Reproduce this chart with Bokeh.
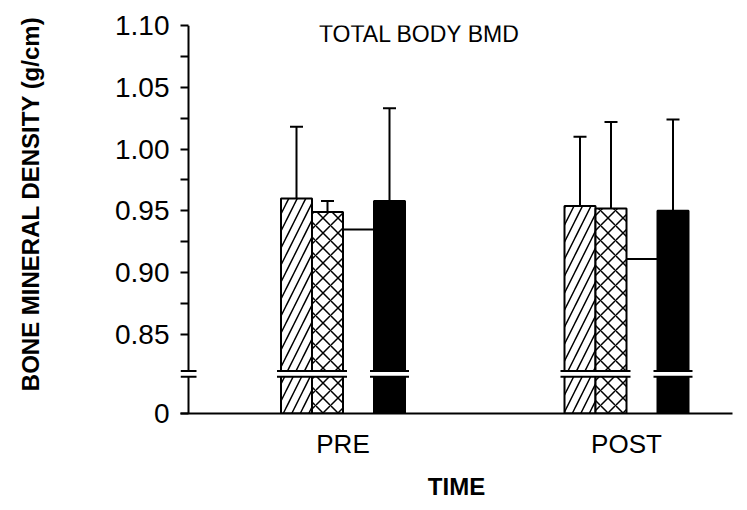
from bokeh.plotting import figure
from bokeh.models import FixedTicker, Label, Whisker, TeeHead, ColumnDataSource, Title, PrintfTickFormatter
from bokeh.embed import file_html
from bokeh.resources import INLINE

# ---- data ----
groups = ["PRE", "POST"]
hatched_mean = [0.960, 0.954]
hatched_sd = [0.058, 0.056]
cross_mean = [0.949, 0.952]
cross_sd = [0.009, 0.070]
open_mean = [0.935, 0.911]
solid_mean = [0.958, 0.950]
solid_sd = [0.075, 0.074]
y_ticks = [0.85, 0.90, 0.95, 1.00, 1.05, 1.10]
y_minor = [0.875, 0.925, 0.975, 1.025, 1.075]

# ---- layout constants ----
BASE = 0.786            # axis position drawn as "0" (broken axis)
BREAK_LO, BREAK_HI = 0.8157, 0.8204
PX = 283.5              # px per x unit
BW = 31 / PX            # bar width
AXIS_X = 1 - (342.5 - 188) / PX
XR = (1 - (342.5 - 180) / PX, 2 + (732 - 626) / PX)
FONT = "Liberation Sans"

gx = [i + 1 for i in range(len(groups))]

p = figure(width=739, height=502, x_range=XR, y_range=(BASE, 1.10),
           output_backend="svg", toolbar_location=None,
           min_border_left=180, min_border_right=7, min_border_top=25, min_border_bottom=84)
p.outline_line_color = None
p.grid.visible = False
p.background_fill_color = "white"

# y axis (ticks drawn inward from frame edge so they meet our own axis line)
ya = p.yaxis[0]
ya.ticker = FixedTicker(ticks=[BASE] + y_ticks, minor_ticks=y_minor)
ya.formatter = PrintfTickFormatter(format="%.2f")
ya.major_label_overrides = {BASE: "0"}
ya.axis_line_color = None
ya.major_tick_in = 8
ya.major_tick_out = 0
ya.minor_tick_in = 8
ya.minor_tick_out = 0
ya.major_tick_line_width = 2
ya.minor_tick_line_width = 2
ya.major_label_standoff = 11
ya.major_label_text_font = FONT
ya.major_label_text_font_size = "28px"
ya.major_label_text_color = "black"

xa = p.xaxis[0]
xa.ticker = FixedTicker(ticks=gx)
xa.major_label_overrides = {g: n for g, n in zip(gx, groups)}
xa.major_tick_in = 0
xa.major_tick_out = 0
xa.minor_tick_line_color = None
xa.axis_line_width = 2
xa.axis_line_color = "black"
xa.major_label_standoff = 15
xa.major_label_text_font = FONT
xa.major_label_text_font_size = "26px"
xa.major_label_text_color = "black"
xa.axis_label = "TIME"
xa.axis_label_text_font = FONT
xa.axis_label_text_font_size = "24px"
xa.axis_label_text_font_style = "bold"
xa.axis_label_text_color = "black"
xa.axis_label_standoff = 11

# own y-axis line with break
dx = 8 / PX
p.segment(x0=[AXIS_X, AXIS_X], x1=[AXIS_X, AXIS_X], y0=[BASE, BREAK_HI], y1=[BREAK_LO, 1.10],
          line_color="black", line_width=2)
p.segment(x0=[AXIS_X - dx] * 2, x1=[AXIS_X + dx] * 2, y0=[BREAK_LO, BREAK_HI], y1=[BREAK_LO, BREAK_HI],
          line_color="black", line_width=2)

x_h = [g - 1.5 * BW for g in gx]
x_c = [g - 0.5 * BW for g in gx]
x_o = [g + 0.5 * BW for g in gx]
x_s = [g + 1.5 * BW for g in gx]

p.vbar(x=x_h, top=hatched_mean, bottom=BASE, width=BW, fill_color="white", line_color="black",
       line_width=2, hatch_pattern="/", hatch_color="black", hatch_weight=1.5, hatch_scale=17)
p.vbar(x=x_c, top=cross_mean, bottom=BASE, width=BW, fill_color="white", line_color="black",
       line_width=2, hatch_pattern="x", hatch_color="black", hatch_weight=1.5, hatch_scale=15)
p.vbar(x=x_s, top=solid_mean, bottom=BASE, width=BW, fill_color="black", line_color="black",
       line_width=2)
# open bar: only its top edge is visible
p.segment(x0=[x - BW / 2 for x in x_o], x1=[x + BW / 2 for x in x_o], y0=open_mean, y1=open_mean,
          line_color="black", line_width=2)

# breaks across bars
ext = 4 / PX
brk_l = [x_h[i] - BW / 2 - ext for i in range(len(gx))] + [x - BW / 2 - ext for x in x_s]
brk_r = [x_c[i] + BW / 2 + ext for i in range(len(gx))] + [x + BW / 2 + ext for x in x_s]
p.quad(left=brk_l, right=brk_r, bottom=BREAK_LO, top=BREAK_HI, fill_color="white", line_color=None)
p.segment(x0=brk_l * 2, x1=brk_r * 2, y0=[BREAK_LO] * 4 + [BREAK_HI] * 4,
          y1=[BREAK_LO] * 4 + [BREAK_HI] * 4, line_color="black", line_width=2)

# error bars (upper only)
ex = x_h + x_c + x_s
lo = hatched_mean + cross_mean + solid_mean
sds = hatched_sd + cross_sd + solid_sd
up = [m + s for m, s in zip(lo, sds)]
src = ColumnDataSource(dict(x=ex, lo=lo, up=up))
w = Whisker(base="x", lower="lo", upper="up", source=src, line_color="black", line_width=2,
            lower_head=None, upper_head=TeeHead(size=13, line_width=2, line_color="black"))
p.add_layout(w)

# texts
p.add_layout(Label(x=239, y=380, x_units="screen", y_units="screen", text="TOTAL BODY BMD",
                   text_font=FONT, text_font_size="23px", text_align="center",
                   text_baseline="middle", text_color="black"))
# spacer between tick labels and the y-axis title
spacer = Title(text=" ", standoff=55, text_font_size="10px")
p.add_layout(spacer, "left")
yt = Title(text="BONE MINERAL DENSITY (g/cm)", align="right", offset=-9, standoff=0,
           vertical_align="middle",
           text_font=FONT, text_font_size="24px", text_font_style="bold", text_color="black")
p.add_layout(yt, "left")

open("out.html", "w").write(file_html(p, INLINE))
